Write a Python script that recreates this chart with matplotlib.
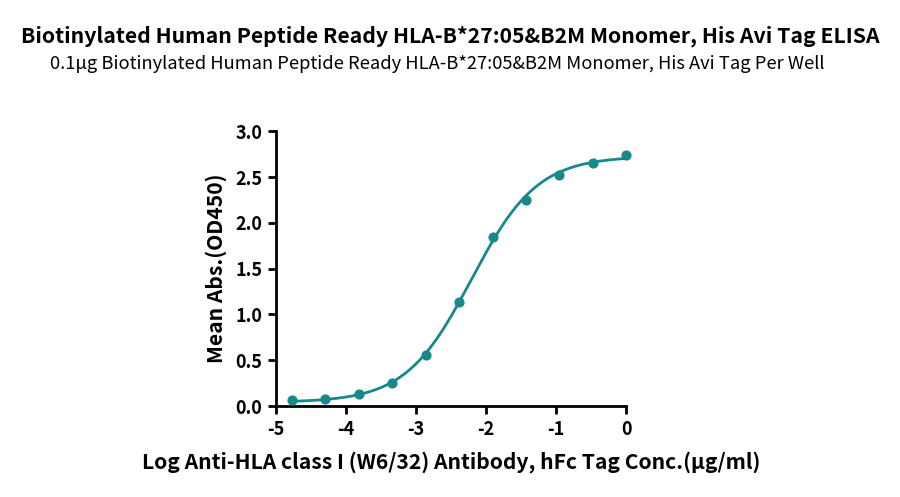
import numpy as np
import matplotlib
matplotlib.use("Agg")
import matplotlib.pyplot as plt

plt.rcParams['font.family'] = ['Noto Sans CJK SC', 'DejaVu Sans']
plt.rcParams['axes.unicode_minus'] = False

# log10 concentration (3-fold dilutions) and mean OD450
log_conc = [-4.771, -4.294, -3.817, -3.340, -2.863, -2.386, -1.908, -1.431, -0.954, -0.477, 0.0]
od450 = [0.062, 0.077, 0.131, 0.248, 0.555, 1.135, 1.847, 2.252, 2.526, 2.653, 2.745]

title = "Biotinylated Human Peptide Ready HLA-B*27:05&B2M Monomer, His Avi Tag ELISA"
subtitle = "0.1\u03bcg Biotinylated Human Peptide Ready HLA-B*27:05&B2M Monomer, His Avi Tag Per Well"
xlabel = "Log Anti-HLA class I (W6/32) Antibody, hFc Tag Conc.(\u03bcg/ml)"
ylabel = "Mean Abs.(OD450)"
color = "#17898a"

x = np.array(log_conc)
y = np.array(od450)


def four_pl(p, t):
    bottom, top, logec50, hill = p
    return bottom + (top - bottom) / (1 + 10 ** ((logec50 - t) * hill))


# simple Gauss-Newton fit of the 4PL curve
p = np.array([0.05, 2.75, -2.3, 1.0])
for _ in range(200):
    r = y - four_pl(p, x)
    J = np.zeros((len(x), 4))
    for k in range(4):
        dp = np.zeros(4)
        dp[k] = 1e-6
        J[:, k] = (four_pl(p + dp, x) - four_pl(p, x)) / 1e-6
    step = np.linalg.lstsq(J.T @ J + 1e-3 * np.eye(4), J.T @ r, rcond=None)[0]
    p = p + step

xs = np.linspace(x.min(), x.max(), 300)

fig = plt.figure(figsize=(9, 4.97), dpi=100)
ax = fig.add_axes([0.3067, 0.183, 0.389, 0.553])
ax.plot(xs, four_pl(p, xs), color=color, lw=2, clip_on=False)
ax.scatter(x, y, color=color, s=40, zorder=3, clip_on=False)

ax.set_xlim(-5, 0)
ax.set_ylim(0, 3.0)
ax.set_xticks([-5, -4, -3, -2, -1, 0])
ax.set_yticks([0.0, 0.5, 1.0, 1.5, 2.0, 2.5, 3.0])
ax.set_yticklabels(["0.0", "0.5", "1.0", "1.5", "2.0", "2.5", "3.0"])
for s in ["top", "right"]:
    ax.spines[s].set_visible(False)
for s in ["left", "bottom"]:
    ax.spines[s].set_linewidth(2)
ax.tick_params(width=2, length=6, labelsize=13, pad=4)
for lab in ax.get_xticklabels() + ax.get_yticklabels():
    lab.set_fontweight("bold")

ax.set_xlabel(xlabel, fontsize=15.2, fontweight="bold", labelpad=9)
ax.set_ylabel(ylabel, fontsize=15.2, fontweight="bold", labelpad=6)

fig.text(0.5, 0.928, title, ha="center", va="center", fontsize=15.3, fontweight="bold")
fig.text(0.486, 0.872, subtitle, ha="center", va="center", fontsize=13.2)

fig.savefig("out.png", dpi=100)
